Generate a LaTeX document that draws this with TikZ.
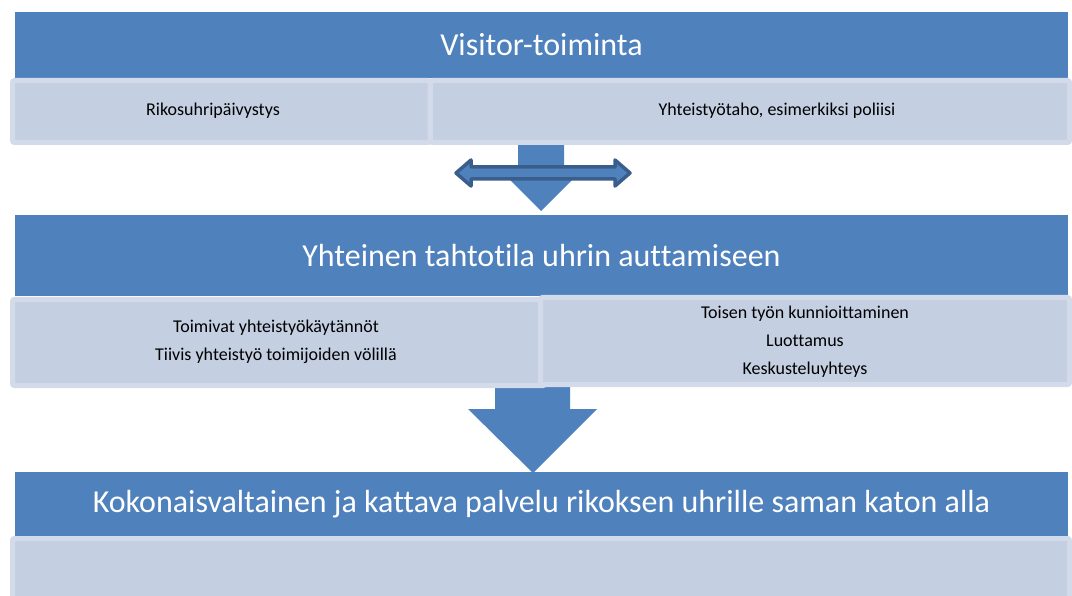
\documentclass[tikz,border=0pt]{standalone}
\usepackage{fontspec}
\setmainfont[Ligatures=NoCommon]{Carlito}
\definecolor{barblue}{HTML}{4F81BD}
\definecolor{paleblue}{HTML}{C4CFE2}
\definecolor{paleedge}{HTML}{D3DAE9}
\definecolor{darkedge}{HTML}{3A5E8C}
\tikzset{
  bar/.style={fill=barblue, inner sep=0pt, text=white, font=\fontsize{32}{34}\selectfont},
  pane/.style={fill=paleblue, draw=paleedge, line width=5pt, rounded corners=2pt},
  small/.style={font=\fontsize{18}{28}\selectfont, align=center, inner sep=0pt},
  bigarrow/.style={fill=barblue},
}
\begin{document}
\begin{tikzpicture}[x=1pt, y=-1pt]
            \useasboundingbox (0,0) rectangle (1072,596);

            % arrows behind the panes
            \fill[bigarrow] (518,140) -- (564,140) -- (564,168) -- (584,168) -- (541,211) -- (498,168) -- (518,168) -- cycle;
            \fill[bigarrow] (495,380) -- (570,380) -- (570,409) -- (597,409) -- (533,473) -- (468,409) -- (495,409) -- cycle;

            % level 1
            \node[bar, minimum width=1053pt, minimum height=66pt] (VT) at (541.5,45) {Visitor-toiminta};
            \draw[pane] (12.5,80.5) rectangle (430,142.5);
            \draw[pane] (430.5,80.5) rectangle (1069.5,142.5);
            \node[small] (RP) at (213,111) {Rikosuhripäivystys};
            \node[small] (YT) at (777,111) {Yhteistyötaho, esimerkiksi poliisi};

            \draw[fill=barblue, draw=darkedge, line width=3.5pt, line join=round]
                (456,173) -- (471,160) -- (471,167) -- (615,167) -- (615,160) -- (630,173)
                -- (615,186) -- (615,179) -- (471,179) -- (471,186) -- cycle;

            % level 2
            \node[bar, minimum width=1053pt, minimum height=81pt] (YH) at (541.5,255.5) {Yhteinen tahtotila uhrin auttamiseen};
            \draw[pane] (12.5,299.5) rectangle (545,385.5);
            \draw[pane] (540.5,297.5) rectangle (1069.5,384.5);
            \node[small] (TY) at (276,341.5) {Toimivat yhteistyökäytännöt\\Tiivis yhteistyö toimijoiden völillä};
            \node[small] (TK) at (805,341.5) {Toisen työn kunnioittaminen\\Luottamus\\Keskusteluyhteys};

            % level 3
            \node[bar, minimum width=1053pt, minimum height=64pt] (KP) at (541.5,504) {Kokonaisvaltainen ja kattava palvelu rikoksen uhrille saman katon alla};
            \draw[pane] (12.5,538.5) rectangle (1069.5,620);
        \end{tikzpicture}
\end{document}
